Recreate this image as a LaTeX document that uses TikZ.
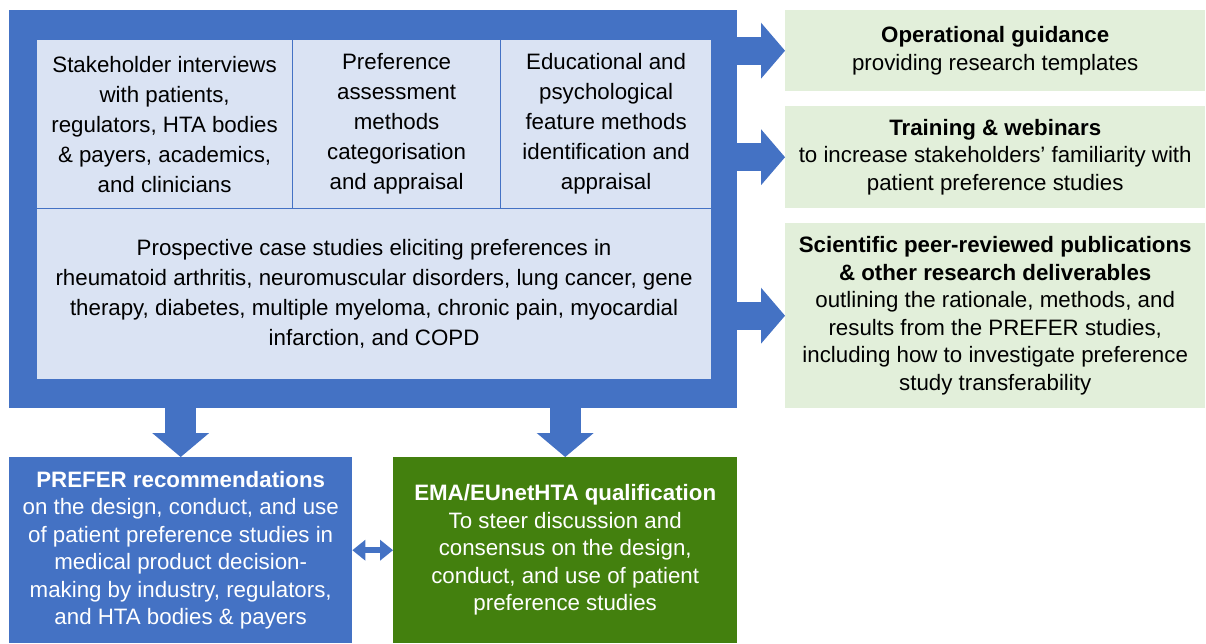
\documentclass[tikz,border=0pt]{standalone}
\usepackage{fontspec}
\setmainfont{Liberation Sans}
\usetikzlibrary{arrows.meta}
\definecolor{preferblue}{HTML}{4472C4}
\definecolor{lightblue}{HTML}{DAE3F3}
\definecolor{lightgreen}{HTML}{E2EFDA}
\definecolor{darkgreen}{HTML}{43800E}
\begin{document}
\begin{tikzpicture}[x=1pt, y=-1pt,
    every node/.style={inner sep=0pt, align=center, anchor=north west,
      font=\fontsize{22.3}{27.5}\selectfont},
    inbox/.style={fill=lightblue, draw=preferblue, line width=1.2pt,
      font=\fontsize{22.3}{30}\selectfont},
    outbox/.style={fill=lightgreen},
    resultbox/.style={fill=#1, text=white},
    sidearrow/.style={preferblue, line width=28pt,
      -{Triangle[width=56pt, length=24pt, line width=0pt]}},
    downarrow/.style={preferblue, line width=31pt,
      -{Triangle[width=57pt, length=24pt, line width=0pt]}},
    linkarrow/.style={preferblue, line width=6pt,
      {Triangle[width=21pt, length=13pt, line width=0pt]}-{Triangle[width=21pt, length=13pt, line width=0pt]}}]
    \useasboundingbox (0,0) rectangle (1206,643);
    % PREFER work
    \node[fill=preferblue, minimum width=728pt, minimum height=398pt] (prefer) at (9,10) {};
    \node[inbox, minimum width=256pt, minimum height=169pt] (interviews) at (36,39)
        {Stakeholder interviews\\with patients,\\regulators, HTA bodies\\\& payers, academics,\\and clinicians};
    \node[inbox, minimum width=208pt, minimum height=169pt] (methods) at (292,39)
        {Preference\\assessment\\methods\\categorisation\\and appraisal};
    \node[inbox, minimum width=211pt, minimum height=169pt] (features) at (500,39)
        {Educational and\\psychological\\feature methods\\identification and\\appraisal};
    \node[inbox, minimum width=675pt, minimum height=171pt] (cases) at (36,208)
        {Prospective case studies eliciting preferences in\\rheumatoid arthritis, neuromuscular disorders, lung cancer, gene\\therapy, diabetes, multiple myeloma, chronic pain, myocardial\\infarction, and COPD};
    % outputs
    \node[outbox, minimum width=420pt, minimum height=81pt] (guidance) at (785,10)
        {\textbf{Operational guidance}\\providing research templates};
    \node[outbox, minimum width=420pt, minimum height=102pt] (training) at (785,106)
        {\textbf{Training \& webinars}\\to increase stakeholders’ familiarity with\\patient preference studies};
    \node[outbox, minimum width=420pt, minimum height=185pt] (papers) at (785,223)
        {\textbf{Scientific peer-reviewed publications}\\\textbf{\& other research deliverables}\\outlining the rationale, methods, and\\results from the PREFER studies,\\including how to investigate preference\\study transferability};
    \node[resultbox=preferblue, minimum width=343pt, minimum height=186pt] (reco) at (9,457)
        {\textbf{PREFER recommendations}\\on the design, conduct, and use\\of patient preference studies in\\medical product decision-\\making by industry, regulators,\\and HTA bodies \& payers};
    \node[resultbox=darkgreen, minimum width=344pt, minimum height=186pt] (qual) at (393,457)
        {\textbf{EMA/EUnetHTA qualification}\\To steer discussion and\\consensus on the design,\\conduct, and use of patient\\preference studies};
    % arrows
    \foreach \out in {guidance, training, papers}
        \draw[sidearrow] (prefer.east |- \out.west) -- (\out.west);
    \foreach \res in {reco, qual}
        \draw[downarrow] (\res.north |- prefer.south) -- (\res.north);
    \draw[linkarrow] (reco.east) -- (qual.west);
\end{tikzpicture}
\end{document}
